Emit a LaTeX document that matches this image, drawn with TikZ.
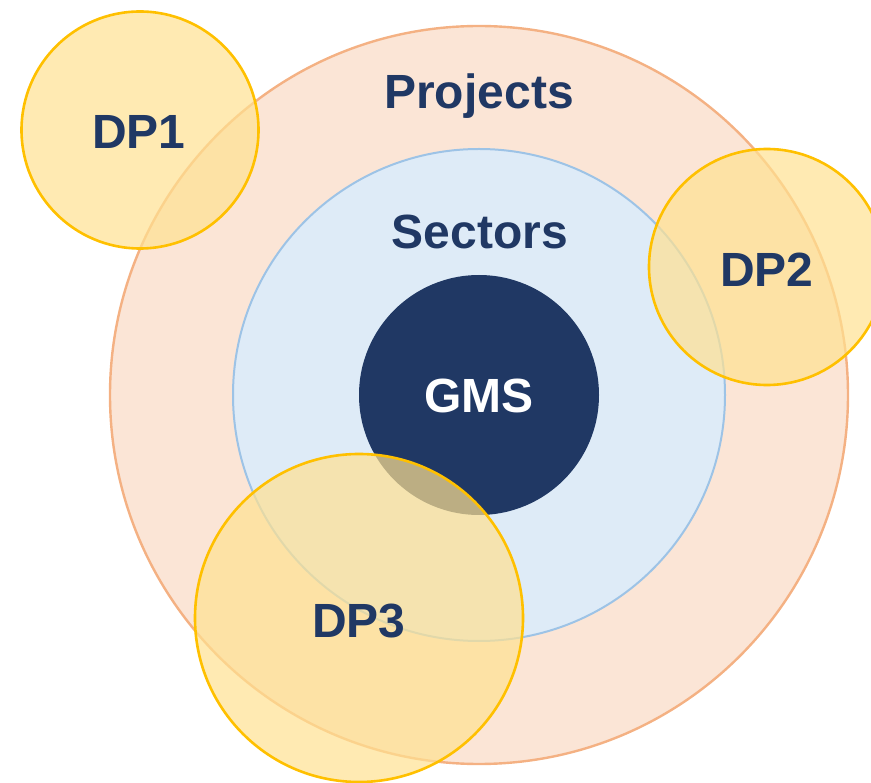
\documentclass[tikz,border=0pt]{standalone}
\usepackage{fontspec}
\setmainfont{Liberation Sans}
\definecolor{navy}{HTML}{203864}
\definecolor{peach}{HTML}{FBE5D6}
\definecolor{peachline}{HTML}{F4B183}
\definecolor{lblue}{HTML}{DEEBF7}
\definecolor{blueline}{HTML}{9DC3E6}
\definecolor{dpfill}{RGB}{255,225,145}
\definecolor{dpline}{HTML}{FFC000}
\begin{document}
\begin{tikzpicture}[x=1pt,y=-1pt,
  lbl/.style={font=\fontsize{48}{52}\selectfont\bfseries, text=navy, inner sep=0pt},
  dp/.style={fill=dpfill, fill opacity=0.7, draw=dpline, line width=2.6pt}]
\useasboundingbox (0,0) rectangle (871,783);
\begin{scope}
\clip (0,0) rectangle (871,783);
\fill[peach, draw=peachline, line width=2.4pt] (479,395) circle (369);
\fill[lblue, draw=blueline, line width=2pt] (479,395) circle (246);
\fill[navy] (479,395) circle (120);
\node[lbl] (proj) at (479,96) {Projects};
\node[lbl] (sect) at (480,232) {Sectors};
\node[lbl, text=white] (gms) at (479,396) {GMS};
\draw[dp] (140,130) circle (118.5);
\draw[dp] (767,267) circle (118);
\draw[dp] (359,618) circle (164);
\node[lbl] (dp1) at (139,132) {DP1};
\node[lbl] (dp2) at (767,270) {DP2};
\node[lbl] (dp3) at (359,621) {DP3};
\end{scope}
\end{tikzpicture}
\end{document}
